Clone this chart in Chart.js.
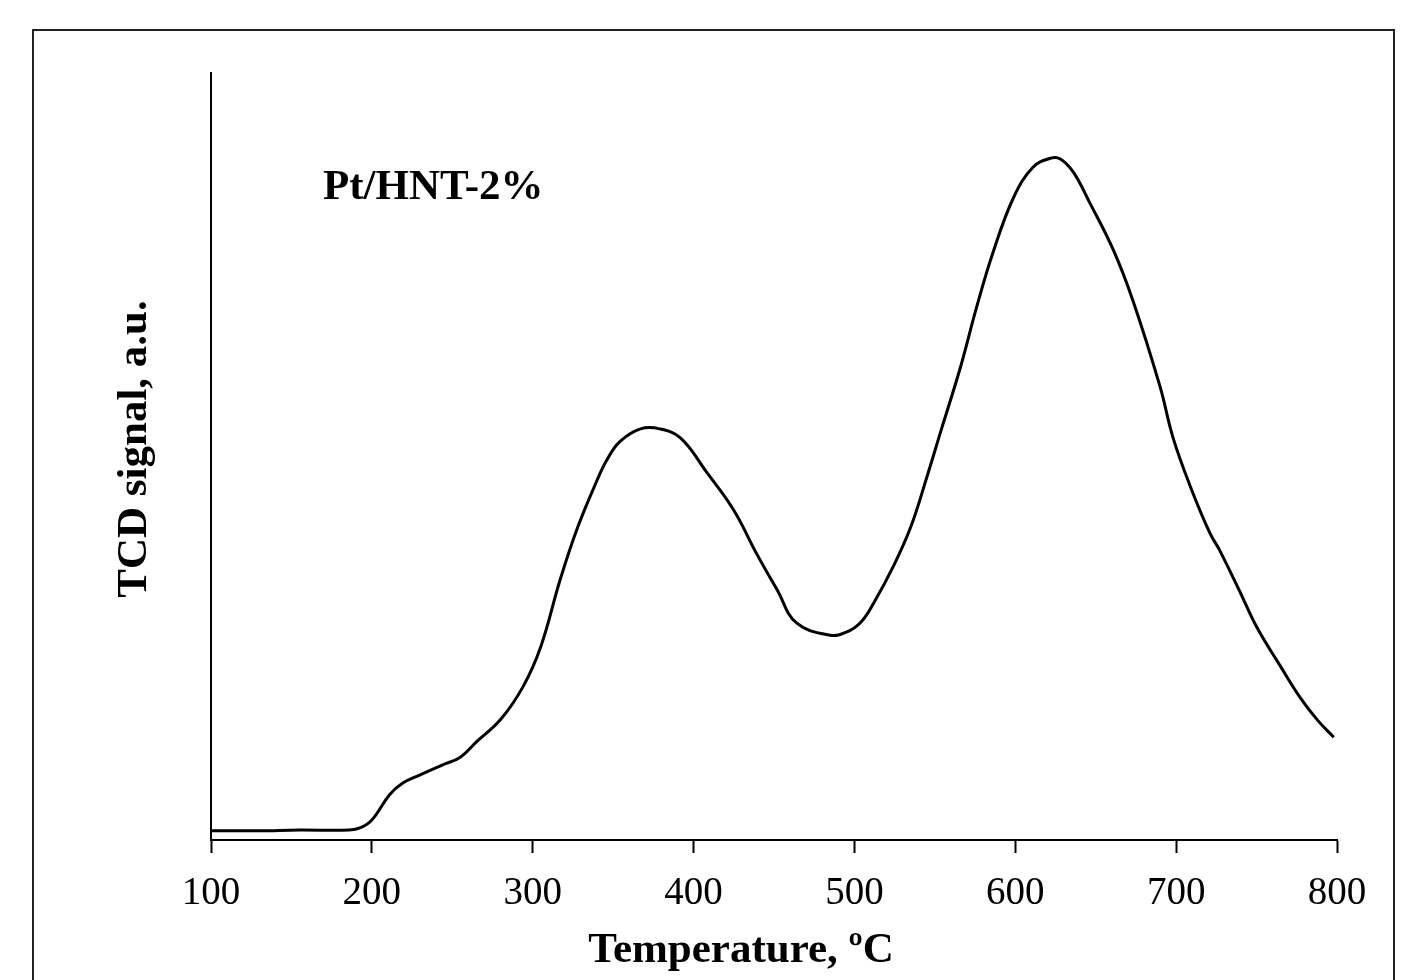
<!DOCTYPE html>
<html>
<head>
    <title>TPR profile Pt/HNT-2%</title>
    <style>
        body {
            margin: 0;
            background-color: white;
        }

        #tpr-chart {
            display: block;
        }
    </style>
    <script src="https://cdn.jsdelivr.net/npm/chart.js"></script>
</head>
<body>

    <canvas id="tpr-chart" width="1422" height="980"></canvas>

    <script>
        // Temperature (ºC) and TCD signal (a.u.)
        const temperatures = [100, 130, 155, 186, 193, 200, 211, 219, 230, 244, 255, 265, 280, 294, 305, 317,
            328, 340, 346, 354, 367, 379, 392, 408, 425, 439, 452, 464, 485, 495, 504, 512, 524, 535, 545,
            554, 566, 576, 586, 599, 611, 622, 628, 636, 646, 661, 673, 690, 698, 709, 721, 727, 740, 750,
            765, 777, 788, 798];
        const tcdSignal = [1.2, 1.2, 1.3, 1.3, 1.6, 2.6, 5.9, 7.4, 8.5, 9.8, 10.8, 12.8, 15.7, 20.0, 25.2, 33.9,
            40.8, 46.9, 49.5, 51.9, 53.6, 53.6, 52.4, 48.0, 43.0, 37.4, 32.6, 28.3, 26.7, 27.1, 28.4, 30.9,
            35.6, 40.8, 47.3, 53.5, 61.7, 69.5, 76.5, 83.8, 87.7, 88.9, 88.8, 87.1, 83.2, 76.9, 70.4, 59.1,
            52.5, 46.0, 40.0, 37.8, 32.2, 27.8, 22.6, 18.6, 15.6, 13.4];
        const xTicks = [100, 200, 300, 400, 500, 600, 700, 800];
        const sampleLabel = 'Pt/HNT-2%';
        const xTitle = 'Temperature, ºC';
        const yTitle = 'TCD signal, a.u.';

        const points = temperatures.map((t, i) => ({x: t, y: tcdSignal[i]}));

        // frame round the figure, axis titles and the sample name
        const decorations = {
            id: 'decorations',
            beforeDraw(chart) {
                const ctx = chart.ctx;
                ctx.save();
                ctx.fillStyle = 'white';
                ctx.fillRect(0, 0, chart.width, chart.height);
                ctx.strokeStyle = '#222';
                ctx.lineWidth = 2;
                ctx.strokeRect(33, 30, 1361, 980);
                ctx.restore();
            },
            afterDraw(chart) {
                const ctx = chart.ctx;
                ctx.save();
                ctx.fillStyle = 'black';
                ctx.font = 'bold 43px "Liberation Serif"';
                ctx.textBaseline = 'alphabetic';
                ctx.textAlign = 'left';
                ctx.fillText(sampleLabel, 323, 199);

                ctx.textAlign = 'center';
                ctx.fillText(xTitle, 741, 962);

                ctx.translate(146, 449);
                ctx.rotate(-Math.PI / 2);
                ctx.fillText(yTitle, 0, 0);
                ctx.restore();
            }
        };

        const ctx = document.getElementById('tpr-chart').getContext('2d');
        const myChart = new Chart(ctx, {
            type: 'line',
            data: {
                datasets: [{
                    data: points,
                    borderColor: 'black',
                    borderWidth: 3,
                    pointRadius: 0,
                    fill: false,
                    tension: 0.4
                }]
            },
            options: {
                responsive: false,
                animation: false,
                events: [],
                layout: {
                    padding: {left: 0, top: 73, right: 85, bottom: 0}
                },
                plugins: {
                    legend: {display: false},
                    tooltip: {enabled: false}
                },
                scales: {
                    x: {
                        type: 'linear',
                        min: 100,
                        max: 800,
                        afterBuildTicks: (scale) => {
                            scale.ticks = xTicks.map(v => ({value: v}));
                        },
                        afterFit: (scale) => {
                            scale.height = 140;
                        },
                        grid: {
                            display: true,
                            drawOnChartArea: false,
                            drawTicks: true,
                            tickLength: 13,
                            tickWidth: 2,
                            tickColor: 'black'
                        },
                        border: {display: true, color: 'black', width: 2},
                        ticks: {
                            color: 'black',
                            padding: 17,
                            maxRotation: 0,
                            font: {family: 'Liberation Serif', size: 39}
                        }
                    },
                    y: {
                        min: 0,
                        max: 100,
                        afterFit: (scale) => {
                            scale.width = 211;
                        },
                        grid: {display: false},
                        border: {display: true, color: 'black', width: 2},
                        ticks: {display: false}
                    }
                }
            },
            plugins: [decorations]
        });
    </script>
</body>
</html>
